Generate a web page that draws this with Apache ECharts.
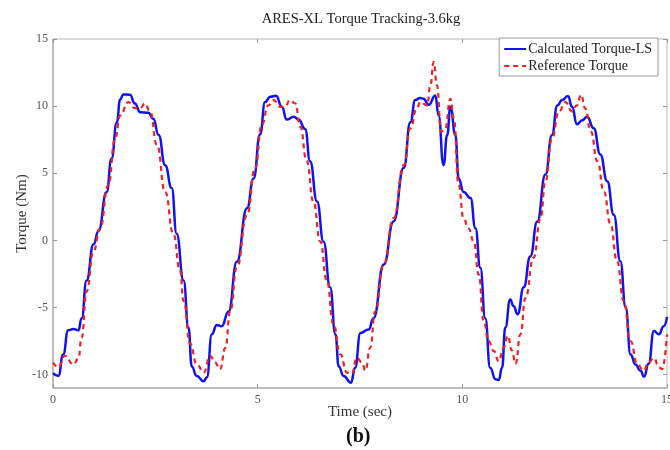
<!DOCTYPE html>
<html>
<head>
<meta charset="utf-8">
<script src="https://cdn.jsdelivr.net/npm/echarts@6/dist/echarts.min.js"></script>
<style>html,body{margin:0;padding:0;background:#fff}#c{width:670px;height:450px}</style>
</head>
<body>
<div id="c"></div>
<script>
// Calculated Torque-LS (blue, solid)
const time_calc = [0.00,0.13,0.25,0.37,0.50,0.62,0.70,0.82,0.99,1.11,1.31,1.43,1.56,1.64,1.72,1.88,2.00,2.13,2.33,2.45,2.58,2.74,2.90,3.02,3.19,3.31,3.39,3.51,3.68,3.76,3.88,4.00,4.12,4.29,4.49,4.74,4.90,5.06,5.18,5.31,5.45,5.59,5.71,5.88,6.00,6.16,6.28,6.45,6.61,6.77,6.90,6.98,7.10,7.28,7.38,7.51,7.71,7.83,8.08,8.32,8.57,8.73,8.85,8.97,9.05,9.18,9.34,9.42,9.54,9.63,9.71,9.83,9.91,10.03,10.20,10.32,10.44,10.56,10.68,10.81,10.89,10.97,11.05,11.17,11.25,11.35,11.50,11.66,11.83,12.03,12.19,12.32,12.44,12.58,12.68,12.80,12.93,13.05,13.21,13.37,13.54,13.70,13.86,13.99,14.11,14.23,14.35,14.44,14.55,14.68,14.80,14.92,15.00];
const torque_calc = [-9.9,-10.1,-8.5,-6.7,-6.6,-6.7,-5.8,-3.0,-0.3,0.7,3.6,6.1,8.8,10.5,10.87,10.85,10.2,9.55,9.5,9.05,7.85,5.6,3.9,0.5,-3.0,-6.5,-9.4,-10.1,-10.5,-10.2,-7.0,-6.3,-6.4,-5.3,-1.6,2.4,4.6,7.9,10.3,10.7,10.77,9.95,9.0,9.2,9.0,8.3,5.9,2.9,-0.1,-3.5,-7.0,-9.4,-10.1,-10.6,-9.5,-6.9,-6.65,-5.8,-1.8,1.4,5.4,8.8,10.45,10.6,10.55,10.1,10.8,9.3,5.6,7.85,9.95,7.85,4.6,3.6,3.15,0.9,-2.05,-5.8,-9.5,-10.35,-10.4,-9.5,-6.5,-4.4,-4.9,-5.5,-3.5,-1.2,1.4,4.9,7.85,10.05,10.45,10.75,9.95,8.65,8.95,9.2,8.35,6.4,4.4,1.9,-1.55,-5.0,-8.5,-9.25,-9.7,-10.15,-9.2,-6.75,-7.0,-6.4,-5.7];

// Reference Torque (red, dashed)
const time_ref = [0.00,0.13,0.29,0.50,0.62,0.70,0.82,0.99,1.15,1.35,1.52,1.64,1.84,2.00,2.13,2.25,2.37,2.54,2.74,2.94,3.10,3.19,3.35,3.51,3.68,3.84,3.96,4.08,4.21,4.33,4.49,4.74,4.94,5.10,5.26,5.39,5.55,5.67,5.79,5.92,6.04,6.20,6.36,6.53,6.69,6.85,7.02,7.18,7.30,7.42,7.55,7.63,7.75,7.87,8.08,8.32,8.57,8.73,8.89,8.97,9.14,9.22,9.30,9.38,9.48,9.58,9.71,9.79,9.91,10.03,10.15,10.28,10.40,10.52,10.64,10.77,10.89,11.01,11.11,11.21,11.30,11.42,11.54,11.74,11.91,12.03,12.19,12.36,12.52,12.68,12.80,12.90,13.00,13.14,13.30,13.46,13.62,13.78,13.94,14.11,14.27,14.43,14.55,14.68,14.80,14.88,15.00];
const torque_ref = [-9.1,-9.45,-8.6,-9.25,-8.8,-7.25,-3.8,-0.8,0.9,4.1,7.6,9.3,10.3,9.85,9.85,10.2,9.6,7.1,3.6,0.5,-2.2,-4.5,-7.7,-9.2,-9.85,-8.6,-9.1,-9.6,-8.0,-5.3,-2.0,1.9,5.4,8.6,10.05,10.45,9.95,9.95,10.45,10.2,8.45,5.9,2.9,-0.1,-3.0,-6.25,-8.5,-9.85,-9.95,-8.75,-9.1,-9.7,-8.0,-5.3,-1.8,1.65,5.6,8.35,9.85,10.3,10.05,11.55,13.3,11.55,8.1,8.3,10.55,9.1,4.1,1.65,0.9,-0.1,-2.55,-6.0,-7.5,-8.25,-9.0,-8.0,-7.1,-8.2,-9.2,-7.0,-4.3,-1.3,1.6,4.4,7.6,9.6,10.3,9.6,10.05,10.85,9.85,8.1,5.9,3.6,1.2,-1.55,-4.5,-7.5,-9.2,-9.7,-9.1,-8.75,-9.45,-9.6,-7.0];

const yTicks = [-10,-5,0,5,10,15];
const xTicks = [0,5,10,15];

const pair = (xs, ys) => xs.map((x, i) => [x, ys[i]]);
const serif = '"Liberation Serif", "DejaVu Serif", serif';
const axisGray = '#b5b5b5';
const labelGray = '#555';

const chart = echarts.init(document.getElementById('c'), null, {renderer: 'canvas'});
chart.setOption({
  animation: false,
  backgroundColor: '#fff',
  title: {
    text: 'ARES-XL Torque Tracking-3.6kg',
    left: 356, top: 7, textAlign: 'center',
    textStyle: {fontFamily: serif, fontSize: 14.5, fontWeight: 'normal', color: '#222'}
  },
  legend: {
    orient: 'vertical', right: 12, top: 38,
    backgroundColor: '#fff', borderColor: '#999', borderWidth: 1,
    padding: [4, 6, 3, 4], itemGap: 3, itemWidth: 22, itemHeight: 14,
    itemStyle: {opacity: 0, color: 'transparent', borderWidth: 0},
    textStyle: {fontFamily: serif, fontSize: 14, color: '#222', padding: [0, 0, 0, -3]},
    data: ['Calculated Torque-LS', 'Reference Torque']
  },
  grid: {left: 53, right: 3, top: 39, bottom: 62, outerBoundsMode: 'none', containLabel: false,
    show: true, borderColor: axisGray, borderWidth: 1},
  xAxis: [{
    type: 'value', min: 0, max: 15, interval: 5,
    name: 'Time (sec)', nameLocation: 'middle', nameGap: 17, nameMoveOverlap: false,
    nameTextStyle: {fontFamily: serif, fontSize: 15, color: '#333'},
    axisLine: {onZero: false, lineStyle: {color: axisGray, width: 1.5}},
    axisTick: {inside: true, length: 4, lineStyle: {color: '#999'}},
    axisLabel: {fontFamily: serif, fontSize: 12, color: labelGray, margin: 6,
      customValues: xTicks},
    splitLine: {show: false}
  }, {
    type: 'value', min: 0, max: 15, interval: 5, position: 'top',
    axisLine: {show: false, onZero: false},
    axisTick: {inside: true, length: 4, lineStyle: {color: '#999'}},
    axisLabel: {show: false}, splitLine: {show: false}
  }],
  yAxis: [{
    type: 'value', min: -11, max: 15,
    name: 'Torque (Nm)', nameLocation: 'middle', nameGap: 23, nameRotate: 90, nameMoveOverlap: false,
    nameTextStyle: {fontFamily: serif, fontSize: 15, color: '#333'},
    axisLine: {show: true, onZero: false, lineStyle: {color: axisGray, width: 1.5}},
    axisTick: {show: true, inside: true, length: 4, lineStyle: {color: '#999'}, customValues: yTicks},
    axisLabel: {fontFamily: serif, fontSize: 12, color: labelGray, margin: 5, customValues: yTicks},
    splitLine: {show: false}
  }, {
    type: 'value', min: -11, max: 15, position: 'right',
    axisLine: {show: false, onZero: false},
    axisTick: {show: true, inside: true, length: 4, lineStyle: {color: '#999'}, customValues: yTicks},
    axisLabel: {show: false, customValues: yTicks}, splitLine: {show: false}
  }],
  graphic: [{
    type: 'text', left: 346, top: 427,
    style: {text: '(b)', font: 'bold 20px ' + serif, fill: '#111'}
  }],
  series: [{
    name: 'Calculated Torque-LS', type: 'line', xAxisIndex: 0, yAxisIndex: 0,
    data: pair(time_calc, torque_calc),
    showSymbol: false, symbol: 'none', smooth: 0.5, smoothMonotone: 'x',
    lineStyle: {color: '#1212ee', width: 2.5},
    itemStyle: {color: '#1212ee'}, z: 3
  }, {
    name: 'Reference Torque', type: 'line', xAxisIndex: 0, yAxisIndex: 0,
    data: pair(time_ref, torque_ref),
    showSymbol: false, symbol: 'none', smooth: 0.5, smoothMonotone: 'x',
    lineStyle: {color: '#ee2222', width: 2.2, type: [5, 4]},
    itemStyle: {color: '#ee2222'}, z: 4
  }]
});
</script>
</body>
</html>
